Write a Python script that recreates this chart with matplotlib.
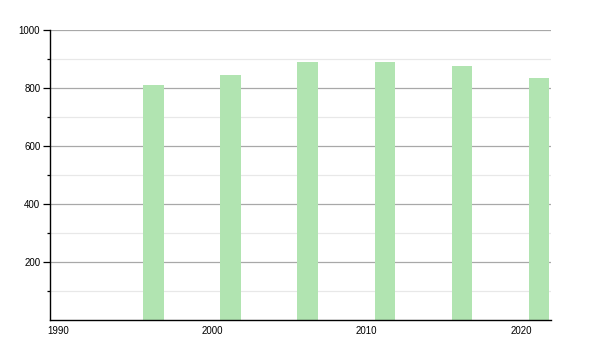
import numpy as np
import matplotlib
matplotlib.use('Agg')
import matplotlib.pyplot as plt

# Données
annees = [1996, 2001, 2006, 2011, 2016, 2021]
population = [811, 845, 891, 891, 877, 835]
x_ticks = [1990, 2000, 2010, 2020]
y_ticks = [200, 400, 600, 800, 1000]
y_minor = [100, 300, 500, 700, 900]

plt.rcParams['font.family'] = ['Liberation Sans', 'DejaVu Sans']

fig = plt.figure(figsize=(6, 3.5), dpi=100)
ax = fig.add_axes([0.0833, 0.0849, 0.835, 0.8285])

# Grille
for v in y_minor:
    ax.axhline(v, color='#e8e8e8', lw=0.9, zorder=0)
for v in y_ticks:
    ax.axhline(v, color='#a8a8a8', lw=0.9, zorder=0)

# Barres (centrées un peu après l'année)
ax.bar(np.array(annees) + 0.17, population, width=1.33, color='#b1e4b1', zorder=2)

ax.set_xlim(1989.47, 2021.94)
ax.set_ylim(0, 1000)
ax.set_xticks(x_ticks)
ax.set_yticks(y_ticks)
ax.set_yticks(y_minor, minor=True)
ax.tick_params(axis='x', length=0, labelsize=7, pad=4)
ax.tick_params(axis='y', which='major', length=5, width=0.9, labelsize=7, pad=2)
ax.tick_params(axis='y', which='minor', length=2.5, width=0.9)

for s in ['top', 'right']:
    ax.spines[s].set_visible(False)
ax.spines['left'].set_linewidth(1)
ax.spines['bottom'].set_linewidth(1)

plt.savefig('out.png', dpi=100)
